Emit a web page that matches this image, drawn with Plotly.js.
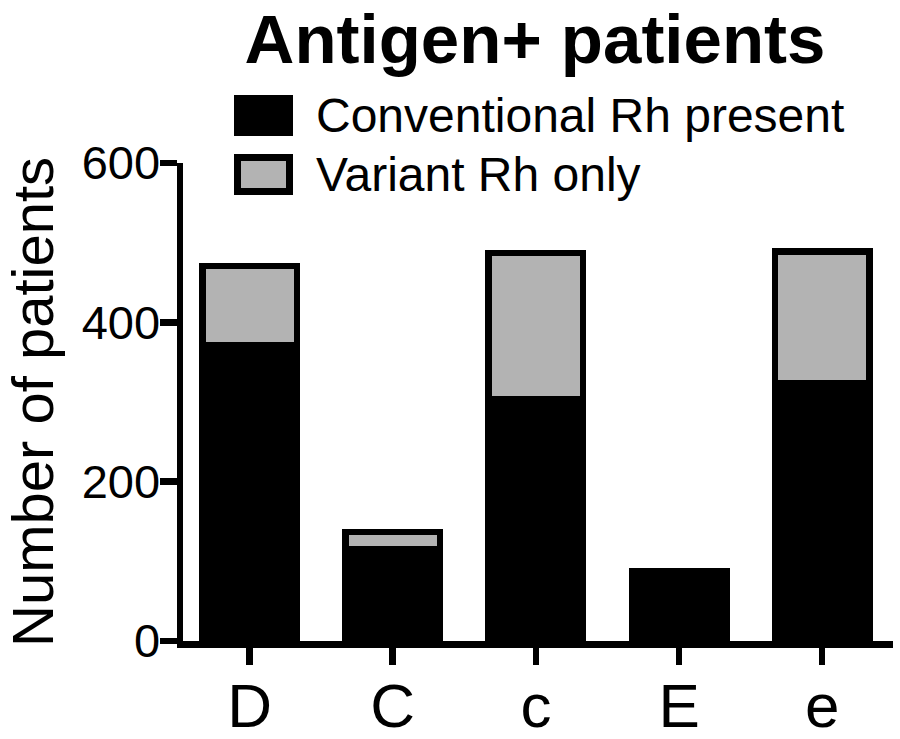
<!DOCTYPE html>
<html>
<head>
<meta charset="utf-8">
<script src="https://cdn.plot.ly/plotly-3.0.1.min.js"></script>
<style>
  html, body { margin: 0; padding: 0; background: #fff; }
  #chart { width: 900px; height: 739px; }
</style>
</head>
<body>
<div id="chart"></div>
<script>
// ---- data ----
const categories = ["D", "C", "c", "E", "e"];
const conventional = [371, 115, 304, 87, 323];
const variantOnly = [100, 22, 183, 0, 166];
const seriesNames = ["Conventional Rh present", "Variant Rh only"];
const yTickVals = [0, 200, 400, 600];
const yTickText = ["0", "200", "400", "600"];
const chartTitle = "Antigen+ patients";
const yTitle = "Number of patients";

// ---- layout geometry ----
const FONT = "'Liberation Sans', Arial, Helvetica, sans-serif";
const L = 183, T = 163, W = 710, H = 478;
const px2x = p => (p - L) / W;
const px2y = p => (T + H - p) / H;

const barLine = { color: "#000", width: 6.5 };

const traces = [
  {
    type: "bar", name: seriesNames[0], x: categories, y: conventional,
    width: 0.66,
    marker: { color: "#000000", line: barLine },
    showlegend: false
  },
  {
    type: "bar", name: seriesNames[1], x: categories, y: variantOnly,
    width: 0.66,
    marker: { color: "#b3b3b3", line: barLine },
    showlegend: false
  }
];

const shapes = [
  { type: "rect", xref: "paper", yref: "paper",
    x0: px2x(234), x1: px2x(293), y0: px2y(95), y1: px2y(136),
    fillcolor: "#000", line: { width: 0 } },
  { type: "rect", xref: "paper", yref: "paper",
    x0: px2x(237.5), x1: px2x(289.5), y0: px2y(157.5), y1: px2y(191.5),
    fillcolor: "#b3b3b3", line: { color: "#000", width: 7 } }
];

const annotations = [
  { xref: "paper", yref: "paper", x: px2x(314), y: px2y(116),
    xanchor: "left", yanchor: "middle", showarrow: false,
    text: seriesNames[0], font: { family: FONT, size: 48, color: "#000" } },
  { xref: "paper", yref: "paper", x: px2x(314), y: px2y(175),
    xanchor: "left", yanchor: "middle", showarrow: false,
    text: seriesNames[1], font: { family: FONT, size: 48, color: "#000" } }
];

const layout = {
  width: 900, height: 739,
  margin: { l: L, r: 900 - L - W, t: T, b: 739 - T - H, pad: 0 },
  paper_bgcolor: "#fff", plot_bgcolor: "#fff",
  barmode: "stack",
  showlegend: false,
  title: {
    text: "<b>" + chartTitle + "</b>",
    font: { family: FONT, size: 69, color: "#000" },
    xref: "container", yref: "container",
    x: 535 / 900, xanchor: "center",
    y: 1 - 15 / 739, yanchor: "top"
  },
  xaxis: {
    type: "category",
    range: [-0.4652, 4.4946],
    showline: true, linecolor: "#000", linewidth: 6.5,
    ticks: "outside", ticklen: 17, tickwidth: 6.5, tickcolor: "#000",
    showgrid: false, zeroline: false,
    tickfont: { family: FONT, size: 62, color: "#000" },
    ticklabelstandoff: -12,
    fixedrange: true
  },
  yaxis: {
    range: [0, 600],
    tickvals: yTickVals, ticktext: yTickText,
    showline: true, linecolor: "#000", linewidth: 6.5,
    ticks: "outside", ticklen: 17, tickwidth: 6.5, tickcolor: "#000",
    showgrid: false, zeroline: false,
    tickfont: { family: FONT, size: 47, color: "#000" },
    ticklabelstandoff: -10,
    title: { text: yTitle, font: { family: FONT, size: 58, color: "#000" }, standoff: 29 },
    fixedrange: true
  },
  shapes: shapes,
  annotations: annotations
};

Plotly.newPlot("chart", traces, layout, { displayModeBar: false, staticPlot: true });
</script>
</body>
</html>
